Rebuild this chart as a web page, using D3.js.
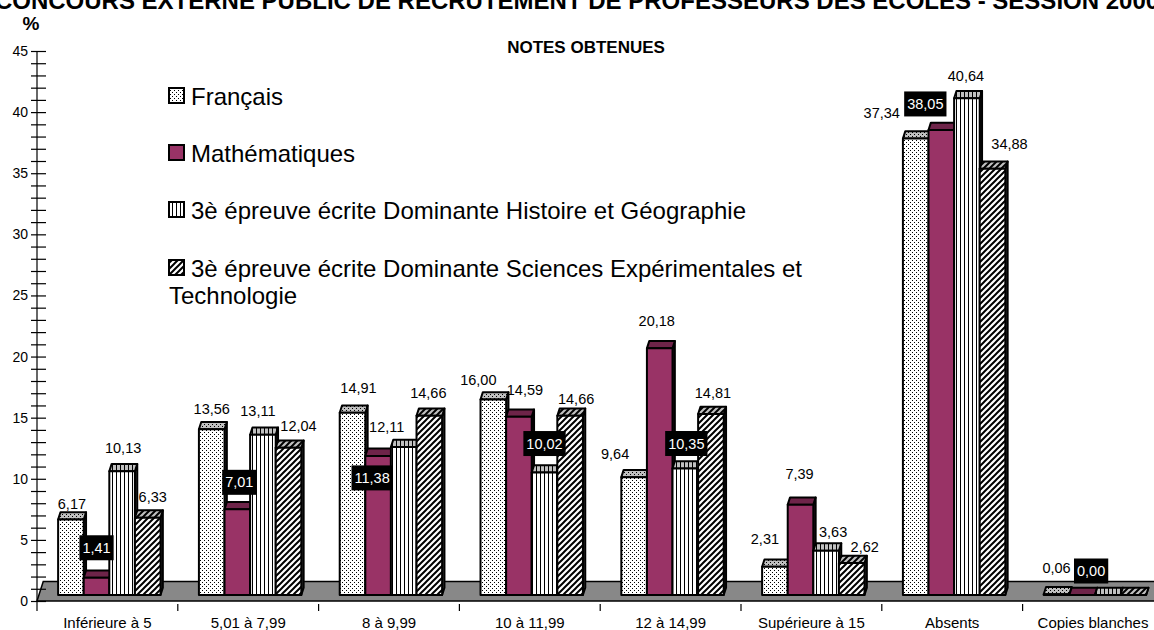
<!DOCTYPE html>
<html>
<head>
<meta charset="utf-8">
<script src="https://cdn.jsdelivr.net/npm/d3@7"></script>
<style>
  body { margin: 0; background: #fff; overflow: hidden; }
  svg { display: block; font-family: "Liberation Sans", Arial, Helvetica, sans-serif; }
</style>
</head>
<body>
<svg id="chart" width="1154" height="630"></svg>
<script>
// categories (x axis)
const categories = ['Inférieure à 5', '5,01 à 7,99', '8 à 9,99', '10 à 11,99', '12 à 14,99', 'Supérieure à 15', 'Absents', 'Copies blanches'];

// series names, as in the legend
const seriesNames = [
  'Français',
  'Mathématiques',
  '3è épreuve écrite Dominante Histoire et Géographie',
  '3è épreuve écrite Dominante Sciences Expérimentales et Technologie'
];

// values in %, null = no label shown (flat bar)
const francais  = [6.17, 13.56, 14.91, 16.00, 9.64, 2.31, 37.34, 0.06];
const maths     = [1.41, 7.01, 11.38, 14.59, 20.18, 7.39, 38.05, 0.00];
const histoire  = [10.13, 13.11, 12.11, 10.02, 10.35, 3.63, 40.64, null];
const sciences  = [6.33, 12.04, 14.66, 14.66, 14.81, 2.62, 34.88, null];
const values = [francais, maths, histoire, sciences];

// labels shown white on a black box
const boxedLabels = [
  [],
  [0, 1, 2, 6, 7],
  [3, 4],
  []
];

// small nudges Excel applied to the labels [dx, dy]
const labelNudge = [
  [[1, 7], [0, 3], [6, -2], [-15, 3], [-19, 0], [-10, -5], [-34, -3], [0, -3]],
  [[0, -7], [2, -4], [-6, 45], [6, -4], [-3, -4], [-1, -8], [-16, -3], [9, -1]],
  [[1, 0], [-5, -1], [-17, 3], [0, -6], [1, -2], [7, 4], [-1, 1], [0, 0]],
  [[5, 2], [10, 1], [-1, 0], [6, 6], [2, 2], [13, 7], [17, -2], [0, 0]]
];

const yTicks = d3.range(0, 46, 1);

const svg = d3.select('#chart');

// front plane scales
const y = d3.scaleLinear().domain([0, 45]).range([601, 51]);
const x0 = d3.scaleBand().domain(categories).range([37, 37 + 8 * 140.8]);
const x1 = d3.scaleBand().domain(d3.range(seriesNames.length)).range([0, x0.bandwidth()]).paddingOuter(0.75);

// oblique 3D depth
const slope = 0.32;
const frontDepth = 6;     // bars sit this far behind the front plane
const barDepth = 7.3;
const floorDepth = 19.5;

// ---------- patterns ----------
const defs = svg.append('defs');

function dotPattern(id, bg) {
  const p = defs.append('pattern').attr('id', id).attr('patternUnits', 'userSpaceOnUse')
    .attr('width', 4).attr('height', 4);
  p.append('rect').attr('width', 4).attr('height', 4).attr('fill', bg);
  p.append('rect').attr('x', 0).attr('y', 0).attr('width', 1).attr('height', 1).attr('fill', '#000');
  p.append('rect').attr('x', 2).attr('y', 2).attr('width', 1).attr('height', 1).attr('fill', '#000');
}
function vlinePattern(id, bg) {
  const p = defs.append('pattern').attr('id', id).attr('patternUnits', 'userSpaceOnUse')
    .attr('width', 4).attr('height', 4);
  p.append('rect').attr('width', 4).attr('height', 4).attr('fill', bg);
  p.append('rect').attr('x', 0).attr('y', 0).attr('width', 1).attr('height', 4).attr('fill', '#000');
}
function diagPattern(id, bg) {
  const s = 6;
  const p = defs.append('pattern').attr('id', id).attr('patternUnits', 'userSpaceOnUse')
    .attr('width', s).attr('height', s);
  p.append('rect').attr('width', s).attr('height', s).attr('fill', bg);
  p.append('path').attr('d', `M0,${s}L${s},0M-1,1L1,-1M${s - 1},${s + 1}L${s + 1},${s - 1}`)
    .attr('stroke', '#000').attr('stroke-width', 2);
}
dotPattern('dotF', '#fff');
dotPattern('dotT', '#c0c0c0');
vlinePattern('vlF', '#fff');
vlinePattern('vlT', '#c0c0c0');
diagPattern('dgF', '#fff');
diagPattern('dgT', '#c0c0c0');

const frontFill = ['url(#dotF)', '#993366', 'url(#vlF)', 'url(#dgF)'];
const topFill = ['url(#dotT)', '#6e2449', 'url(#vlT)', 'url(#dgT)'];
const sideFill = ['#555', '#4d1a33', '#555', '#555'];

// ---------- floor ----------
const fx0 = 37, fx1 = 1175, fy = y(0);
svg.append('path')
  .attr('d', `M${fx0},${fy}L${fx1},${fy}L${fx1 + floorDepth * slope},${fy - floorDepth}L${fx0 + floorDepth * slope},${fy - floorDepth}Z`)
  .attr('fill', '#888')
  .attr('stroke', '#000')
  .attr('stroke-width', 1.5);

// ---------- value axis ----------
const yAxis = svg.append('g')
  .attr('transform', 'translate(37,0)')
  .call(d3.axisLeft(y).tickValues(yTicks).tickSize(6).tickPadding(3)
    .tickFormat(d => d % 5 === 0 ? d : ''));
yAxis.attr('font-family', null).attr('font-size', 14);
yAxis.select('.domain').remove();
yAxis.selectAll('.tick line').attr('x1', 9).attr('stroke', '#000').attr('stroke-width', 1.2);
yAxis.selectAll('.tick text').attr('fill', '#000');
svg.append('line')
  .attr('x1', 37).attr('x2', 37)
  .attr('y1', y(45)).attr('y2', y(0) + 10)
  .attr('stroke', '#000').attr('stroke-width', 1.2);

// ---------- category axis ----------
svg.append('g').selectAll('line')
  .data(categories.slice(1))
  .enter().append('line')
  .attr('x1', d => x0(d)).attr('x2', d => x0(d))
  .attr('y1', y(0) + 3).attr('y2', y(0) + 10)
  .attr('stroke', '#000').attr('stroke-width', 1.2);

svg.append('g').selectAll('text')
  .data(categories)
  .enter().append('text')
  .attr('x', d => x0(d) + x0.bandwidth() / 2)
  .attr('y', 628)
  .attr('text-anchor', 'middle')
  .attr('font-size', 15)
  .text(d => d);

// ---------- 3D bars ----------
const barsG = svg.append('g');
const w = x1.bandwidth();
const ddx = barDepth * slope, ddy = barDepth;
categories.forEach((c, ci) => {
  values.forEach((vals, si) => {
    const v = vals[ci] == null ? 0 : vals[ci];
    const xl = x0(c) + x1(si) + frontDepth * slope;
    const yb = y(0) - frontDepth;
    const yt = y(v) - frontDepth;
    const g = barsG.append('g')
      .attr('stroke', '#000')
      .attr('stroke-width', 2)
      .attr('stroke-linejoin', 'round');
    g.append('path')
      .attr('d', `M${xl + w},${yb}L${xl + w + ddx},${yb - ddy}L${xl + w + ddx},${yt - ddy}L${xl + w},${yt}Z`)
      .attr('fill', sideFill[si]);
    g.append('path')
      .attr('d', `M${xl},${yt}L${xl + ddx},${yt - ddy}L${xl + w + ddx},${yt - ddy}L${xl + w},${yt}Z`)
      .attr('fill', topFill[si]);
    g.append('rect')
      .attr('x', xl).attr('y', yt)
      .attr('width', w).attr('height', yb - yt)
      .attr('fill', frontFill[si]);
  });
});

// ---------- data labels ----------
const fmt = v => v.toFixed(2).replace('.', ',');
const labG = svg.append('g').attr('font-size', 14.5);
values.forEach((vals, si) => {
  vals.forEach((v, ci) => {
    if (v == null) return;
    const [ndx, ndy] = labelNudge[si][ci];
    const cx = x0(categories[ci]) + x1(si) + frontDepth * slope + w / 2 + ndx;
    const cy = y(v) - frontDepth - 23 + ndy;
    const boxed = boxedLabels[si].includes(ci);
    const g = labG.append('g');
    const rect = g.append('rect').attr('fill', '#000');
    const t = g.append('text')
      .attr('x', cx).attr('y', cy)
      .attr('dy', '0.35em')
      .attr('text-anchor', 'middle')
      .attr('fill', boxed ? '#fff' : '#000')
      .text(fmt(v));
    if (boxed) {
      const tw = t.node().getComputedTextLength();
      rect.attr('x', cx - tw / 2 - 3).attr('y', cy - 12.5)
        .attr('width', tw + 6).attr('height', 25);
    } else {
      rect.remove();
    }
  });
});

// ---------- legend ----------
const legendY = [105, 162, 219, 277];
const legend = svg.append('g').attr('font-size', 24);
seriesNames.forEach((name, si) => {
  legend.append('rect')
    .attr('x', 169).attr('y', legendY[si] - 17)
    .attr('width', 15).attr('height', 15)
    .attr('fill', frontFill[si])
    .attr('stroke', '#000').attr('stroke-width', 2);
  const t = legend.append('text').attr('x', 191).attr('y', legendY[si]);
  if (si === 3) {
    t.append('tspan').text('3è épreuve écrite Dominante Sciences Expérimentales et');
    t.append('tspan').attr('x', 169).attr('dy', 27).text('Technologie');
  } else {
    t.text(name);
  }
});

// ---------- titles ----------
svg.append('text')
  .attr('x', 577).attr('y', 9)
  .attr('text-anchor', 'middle')
  .attr('font-weight', 'bold').attr('font-size', 24)
  .text('CONCOURS EXTERNE PUBLIC DE RECRUTEMENT DE PROFESSEURS DES ECOLES - SESSION 2000');

svg.append('text')
  .attr('x', 586).attr('y', 53)
  .attr('text-anchor', 'middle')
  .attr('font-weight', 'bold').attr('font-size', 17)
  .text('NOTES OBTENUES');

svg.append('text')
  .attr('x', 31).attr('y', 30)
  .attr('text-anchor', 'middle')
  .attr('font-weight', 'bold').attr('font-size', 19)
  .text('%');
</script>
</body>
</html>
